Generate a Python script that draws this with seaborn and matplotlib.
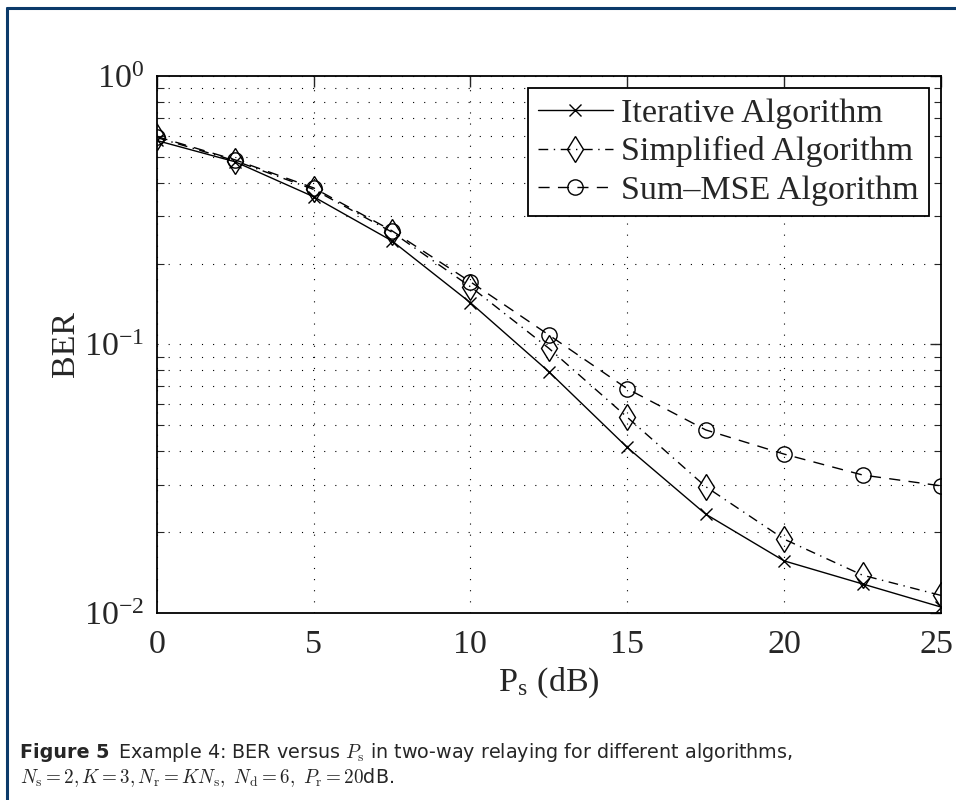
import matplotlib
matplotlib.use("Agg")
import matplotlib.pyplot as plt
from matplotlib.lines import Line2D
from matplotlib.transforms import ScaledTranslation
from matplotlib.ticker import LogLocator, NullFormatter, FixedLocator, FuncFormatter
import numpy as np
import pandas as pd
import seaborn as sns

# ---- data ----
ps_db = [0, 2.5, 5, 7.5, 10, 12.5, 15, 17.5, 20, 22.5, 25]
ber_iterative = [0.575, 0.479, 0.355, 0.243, 0.143, 0.0791, 0.0413, 0.0233, 0.0156, 0.0128, 0.0105]
ber_simplified = [0.590, 0.483, 0.378, 0.262, 0.164, 0.0967, 0.0535, 0.0295, 0.0188, 0.0138, 0.0116]
ber_summse = [0.595, 0.487, 0.383, 0.265, 0.171, 0.1084, 0.0683, 0.0480, 0.0390, 0.0326, 0.0297]
series_names = ["Iterative Algorithm", "Simplified Algorithm", "Sum\u2013MSE Algorithm"]
x_ticks = [0, 5, 10, 15, 20, 25]

df = pd.DataFrame({
    "Ps": ps_db * 3,
    "BER": ber_iterative + ber_simplified + ber_summse,
    "alg": [series_names[0]] * len(ps_db) + [series_names[1]] * len(ps_db) + [series_names[2]] * len(ps_db),
})

sns.set_theme(style="white")
plt.rcParams["font.family"] = ["Liberation Serif", "DejaVu Serif"]
plt.rcParams["mathtext.fontset"] = "stix"
plt.rcParams["axes.unicode_minus"] = True

fig = plt.figure(figsize=(9.56, 8.0), dpi=100)
ax = fig.add_axes([0.1639, 0.2341, 0.8204, 0.6709])

styles = {
    series_names[0]: dict(linestyle="-", marker="x", markersize=8),
    series_names[1]: dict(linestyle=(0, (7, 4, 1, 4)), marker="d", markersize=13),
    series_names[2]: dict(linestyle=(0, (8, 6)), marker="o", markersize=11),
}

for name in series_names:
    sub = df[df["alg"] == name]
    st = styles[name]
    sns.lineplot(data=sub, x="Ps", y="BER", ax=ax, color="black", label=name,
                 linestyle=st["linestyle"], marker=st["marker"],
                 markersize=st["markersize"], markerfacecolor="none",
                 markeredgecolor="black", markeredgewidth=1.0, linewidth=1.0)

ax.set_yscale("log")
ax.set_xlim(0, 25)
ax.set_ylim(1e-2, 1)
ax.xaxis.set_major_locator(FixedLocator(x_ticks))
ax.set_xticklabels([str(t) for t in x_ticks])
ax.yaxis.set_major_locator(LogLocator(base=10, numticks=10))
ax.yaxis.set_major_formatter(FuncFormatter(
    lambda v, p: r"$\mathdefault{10^{\mathdefault{%d}}}$" % int(round(np.log10(v)))))
ax.yaxis.set_minor_locator(LogLocator(base=10, subs=np.arange(2, 10), numticks=10))
ax.yaxis.set_minor_formatter(NullFormatter())

ax.grid(True, which="major", axis="both", color="black", linestyle=(0, (1, 9)), linewidth=0.8)
ax.grid(True, which="minor", axis="y", color="black", linestyle=(0, (1, 9)), linewidth=0.8)

ax.tick_params(axis="both", which="major", direction="in", length=8, width=1.0,
               top=True, right=True, labelsize=24.5, pad=9)
ax.tick_params(axis="y", which="minor", direction="in", length=5, width=0.8, right=True, left=True)
ax.tick_params(axis="x", which="major", pad=12)
for sp in ax.spines.values():
    sp.set_color("black")
    sp.set_linewidth(1.3)

# keep the last x tick label inside the figure
last_lbl = ax.get_xticklabels()[-1]
last_lbl.set_transform(last_lbl.get_transform() + ScaledTranslation(-4 / 100, 0, fig.dpi_scale_trans))

ax.set_xlabel(r"P$_{\mathdefault{s}}$ (dB)", fontsize=24.5, labelpad=4)
ax.set_ylabel("BER", fontsize=24.5, labelpad=2)

leg = ax.legend(loc="upper right", fontsize=24.5, frameon=True, fancybox=False,
                edgecolor="black", framealpha=1, handlelength=2.2, handletextpad=0.25,
                borderpad=0.3, labelspacing=0.22, borderaxespad=0.35, numpoints=1)
leg.get_frame().set_linewidth(1.3)

# caption
cap_family = ["DejaVu Sans"]
cap_size = 13.8
t_fig = fig.text(0.021, 0.0525, "Figure 5", fontsize=cap_size, fontweight="bold", family=cap_family,
                 va="baseline", ha="left")
fig.canvas.draw()
bb = t_fig.get_window_extent(renderer=fig.canvas.get_renderer())
x_next = (bb.x1 + 8) / fig.bbox.width
fig.text(x_next, 0.0525, r"Example 4: BER versus $P_\mathrm{s}$ in two-way relaying for different algorithms,",
         fontsize=cap_size, family=cap_family, va="baseline", ha="left", math_fontfamily="cm")
fig.text(0.021, 0.021,
         r"$N_\mathrm{s}=2, K=3, N_\mathrm{r}=KN_\mathrm{s},\ N_\mathrm{d}=6,\ P_\mathrm{r}=20$dB.",
         fontsize=cap_size, family=cap_family, va="baseline", ha="left", math_fontfamily="cm")

# page frame (dark blue)
frame_col = "#0b3a6a"
fig.add_artist(Line2D([0.0073, 1.0], [0.99, 0.99], transform=fig.transFigure, color=frame_col, linewidth=2.2))
fig.add_artist(Line2D([0.0073, 0.0073], [0.0, 0.99], transform=fig.transFigure, color=frame_col, linewidth=2.2))

fig.savefig("out.png", dpi=100, facecolor="white")
